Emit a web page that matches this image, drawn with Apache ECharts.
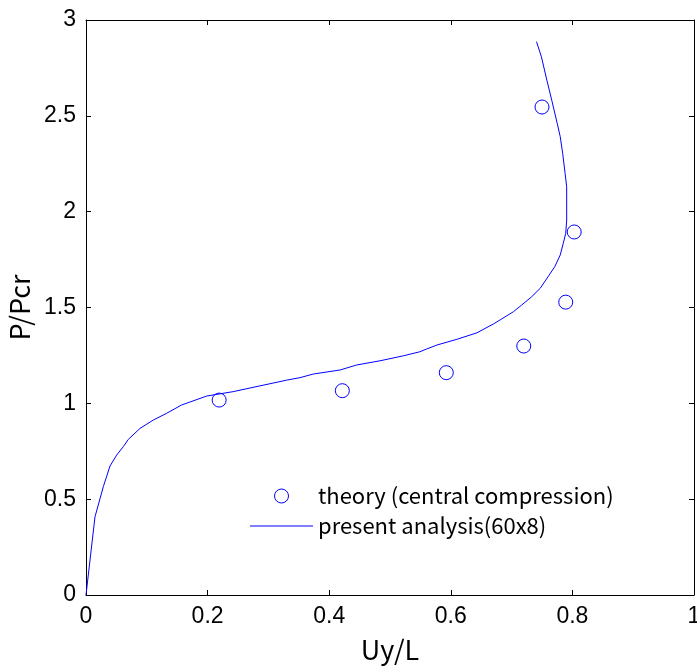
<!DOCTYPE html>
<html>
<head>
<meta charset="utf-8">
<script src="https://cdn.jsdelivr.net/npm/echarts@6.0.0/dist/echarts.min.js"></script>
<style>
  html, body { margin: 0; padding: 0; background: #fff; }
  #root { width: 697px; height: 666px; }
</style>
</head>
<body>
<div id="root"></div>
<script>
// present analysis (60x8) curve
const curveX = [0, 0.0148, 0.0285, 0.0395, 0.0504, 0.0614, 0.0696, 0.0888, 0.1107, 0.1327,
  0.157, 0.1985, 0.242, 0.33, 0.352, 0.374, 0.418, 0.445, 0.4836, 0.522,
  0.549, 0.56, 0.577, 0.61, 0.643, 0.67, 0.681, 0.703, 0.7166, 0.733,
  0.747, 0.76, 0.771, 0.78, 0.785, 0.789, 0.7906, 0.7906, 0.788, 0.784,
  0.78, 0.775, 0.766, 0.758, 0.749, 0.741]
const curveY = [0, 0.408, 0.565, 0.673, 0.73, 0.774, 0.812, 0.869, 0.913, 0.948,
  0.991, 1.038, 1.061, 1.121, 1.134, 1.153, 1.174, 1.2, 1.222, 1.248,
  1.269, 1.283, 1.304, 1.334, 1.368, 1.414, 1.435, 1.478, 1.513, 1.556,
  1.6, 1.661, 1.713, 1.774, 1.835, 1.887, 1.956, 2.13, 2.2, 2.304,
  2.391, 2.461, 2.582, 2.686, 2.808, 2.887]

// theory (central compression)
const theoryX = [0.219, 0.4216, 0.5926, 0.72, 0.789, 0.803, 0.75]
const theoryY = [1.017, 1.066, 1.16, 1.299, 1.528, 1.894, 2.546]

const xTicks = [0, 0.2, 0.4, 0.6, 0.8, 1]
const yTicks = [0, 0.5, 1, 1.5, 2, 2.5, 3]

const blue = '#0000ff'
const labelFont = '"Liberation Sans", sans-serif'
const textFont = '"Noto Sans CJK JP", "Noto Sans", sans-serif'

const zip = (xs, ys) => xs.map((x, i) => [x, ys[i]])

const chart = echarts.init(document.getElementById('root'))

const baseX = {
  type: 'value',
  min: xTicks[0],
  max: xTicks[xTicks.length - 1],
  interval: 0.2,
  splitLine: { show: false },
  axisLine: { onZero: false, lineStyle: { color: '#000', width: 1 } },
  axisTick: { inside: true, length: 5, lineStyle: { color: '#000' } }
}
const baseY = {
  type: 'value',
  min: yTicks[0],
  max: yTicks[yTicks.length - 1],
  interval: 0.5,
  splitLine: { show: false },
  axisLine: { onZero: false, lineStyle: { color: '#000', width: 1 } },
  axisTick: { inside: true, length: 5, lineStyle: { color: '#000' } }
}

chart.setOption({
  animation: false,
  backgroundColor: '#fff',
  grid: { left: 86, right: 3, top: 20, bottom: 71, outerBoundsMode: 'none', containLabel: false },
  legend: [
    {
      data: ['theory (central compression)'],
      left: 269,
      top: 480,
      itemWidth: 63,
      itemHeight: 14,
      icon: 'circle',
      itemStyle: { color: '#fff', borderColor: blue, borderWidth: 1 },
      textStyle: { fontFamily: textFont, fontSize: 22, color: '#000' }
    },
    {
      data: [{ name: 'present analysis(60x8)', icon: 'rect' }],
      left: 245,
      top: 510,
      itemWidth: 63,
      itemHeight: 1.2,
      textStyle: { fontFamily: textFont, fontSize: 22, color: '#000' }
    }
  ],
  xAxis: [
    Object.assign({}, baseX, {
      position: 'bottom',
      name: 'Uy/L',
      nameLocation: 'middle',
      nameGap: 41,
      nameTextStyle: { fontFamily: textFont, fontSize: 27, color: '#000' },
      axisLabel: { margin: 10, fontFamily: labelFont, fontSize: 23, color: '#000' }
    }),
    Object.assign({}, baseX, { position: 'top', axisLabel: { show: false } })
  ],
  yAxis: [
    Object.assign({}, baseY, {
      position: 'left',
      name: 'P/Pcr',
      nameLocation: 'middle',
      nameGap: 50,
      nameTextStyle: { fontFamily: textFont, fontSize: 27, color: '#000' },
      axisLabel: { margin: 10, fontFamily: labelFont, fontSize: 23, color: '#000' }
    }),
    Object.assign({}, baseY, { position: 'right', axisLabel: { show: false } })
  ],
  series: [
    {
      name: 'theory (central compression)',
      type: 'scatter',
      data: zip(theoryX, theoryY),
      symbol: 'circle',
      symbolSize: 14,
      itemStyle: { color: '#fff', borderColor: blue, borderWidth: 1, opacity: 1 }
    },
    {
      name: 'present analysis(60x8)',
      type: 'line',
      data: zip(curveX, curveY),
      showSymbol: false,
      symbol: 'none',
      lineStyle: { color: blue, width: 1 },
      itemStyle: { color: blue }
    }
  ]
})
</script>
</body>
</html>
